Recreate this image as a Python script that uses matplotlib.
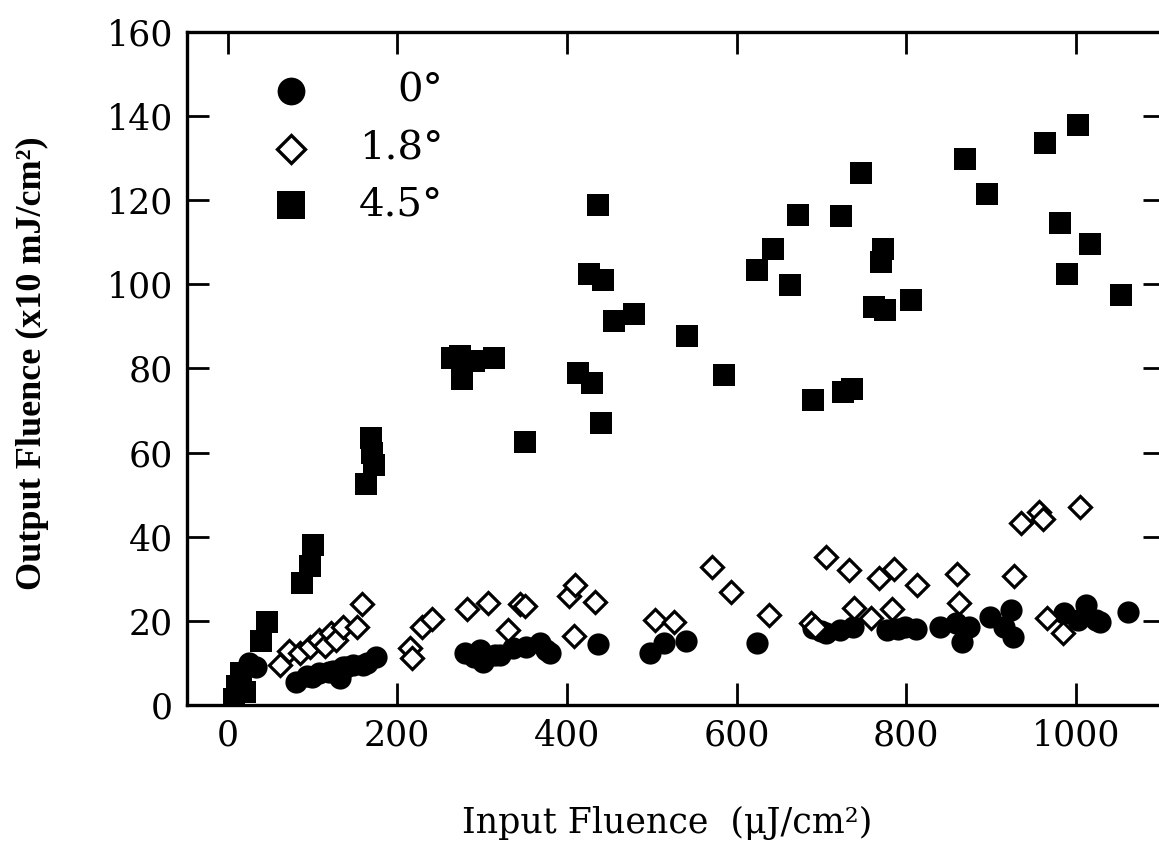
import numpy as np
import matplotlib.pyplot as plt

plt.ioff()

# 0 deg (filled circles)
fluence_0 = [25, 33, 81, 93, 100, 108, 120, 124, 132, 136, 140, 148, 159, 164, 175,
             280, 290, 297, 301, 305, 315, 321, 336, 352, 368, 375, 380, 437,
             498, 515, 540, 624, 690, 700, 706, 722, 737, 777, 790, 798, 811,
             840, 859, 866, 874, 899, 915, 923, 926, 986, 1003, 1012, 1024, 1028, 1062]
output_0 = [10, 9, 5.5, 7, 6.7, 7.5, 7.8, 8, 6.5, 9, 9, 9.5, 9.5, 10, 11.5,
            12.3, 11.5, 13, 10.2, 11.4, 12, 11.9, 13.5, 13.8, 14.7, 13, 12.3, 14.5,
            12.3, 14.7, 15.3, 14.7, 18.2, 17.5, 17, 17.8, 18.5, 17.8, 18, 18.5, 18,
            18.5, 19.4, 15, 18.5, 21, 18.5, 22.5, 16.2, 21.8, 20.2, 23.7, 20.2, 19.7, 22]

# 1.8 deg (open diamonds)
fluence_18 = [62, 72, 85, 97, 108, 115, 122, 128, 136, 152, 158, 215, 217, 229, 241,
              282, 307, 330, 345, 350, 403, 408, 410, 433, 504, 526, 571, 593, 638,
              688, 692, 706, 733, 738, 759, 768, 783, 786, 813, 860, 862,
              927, 935, 957, 961, 966, 985, 1005]
output_18 = [9.6, 12.8, 12.3, 13.8, 15.4, 14, 17, 15.5, 18.5, 18.5, 24, 13.5, 11.2, 18.5, 20.5,
             22.8, 24.2, 17.8, 24, 23.5, 25.8, 16.4, 28.5, 24.4, 20.3, 19.8, 32.8, 26.8, 21.4,
             19.6, 18.5, 35.2, 32, 23, 20.6, 30.2, 22.9, 32.3, 28.5, 31.2, 24.3,
             30.6, 43.3, 45.8, 44.2, 20.6, 17, 47.1]

# 4.5 deg (filled squares)
fluence_45 = [8, 11, 16, 20, 39, 46, 88, 97, 101, 163, 172, 170, 169,
              265, 274, 276, 290, 314, 351, 413, 430, 440, 426, 443, 437, 455, 479,
              542, 585, 624, 643, 663, 673, 690, 723, 725, 736, 747, 762, 775, 770,
              773, 806, 869, 895, 964, 981, 990, 1003, 1017, 1053]
output_45 = [1.5, 4.5, 7.5, 3, 15.2, 19.7, 29, 33, 38, 52.5, 57, 60, 63.4,
             82.5, 83, 77.5, 81.8, 82.5, 62.5, 79, 76.5, 67, 102.4, 101, 118.8, 91.4, 93,
             87.7, 78.4, 103.5, 108.3, 99.8, 116.4, 72.5, 116.3, 74.3, 75.1, 126.4, 94.5, 94,
             105.4, 108.4, 96.2, 129.9, 121.4, 133.7, 114.6, 102.4, 138, 109.7, 97.4]

series_labels = ['0\u00b0', '1.8\u00b0', '4.5\u00b0']
x_ticks = [0, 200, 400, 600, 800, 1000]
y_ticks = [0, 20, 40, 60, 80, 100, 120, 140, 160]

fig = plt.figure(figsize=(11.59, 8.44), dpi=100)
# the right frame runs just past the edge of the scanned page
ax = fig.add_axes([0.1613, 0.1647, 0.8438, 0.7974])

ax.plot(fluence_45, output_45, linestyle='none', marker='s', markersize=16.5,
        color='black', markeredgewidth=0, zorder=3)
ax.plot(fluence_0, output_0, linestyle='none', marker='o', markersize=16,
        color='black', markeredgewidth=0, zorder=4)
ax.plot(fluence_18, output_18, linestyle='none', marker='D', markersize=11.5,
        markerfacecolor='white', markeredgecolor='black', markeredgewidth=2.3, zorder=5)

ax.set_xlim(-48, 1105)
ax.set_ylim(0, 160)
ax.set_xticks(x_ticks)
ax.set_yticks(y_ticks)

for sp in ax.spines.values():
    sp.set_linewidth(2.4)

ax.tick_params(direction='in', length=16, width=2.0, top=True, right=True,
               labelsize=25, pad=10)
for lab in ax.get_xticklabels() + ax.get_yticklabels():
    lab.set_fontfamily('DejaVu Serif')

# legend drawn by hand so that the labels line up on the right
legend_y = [0.912, 0.826, 0.743]
legend_styles = [
    dict(marker='o', markersize=20, color='black', markeredgewidth=0),
    dict(marker='D', markersize=14.5, markerfacecolor='white',
         markeredgecolor='black', markeredgewidth=2.4),
    dict(marker='s', markersize=20, color='black', markeredgewidth=0),
]
for yy, lab, st in zip(legend_y, series_labels, legend_styles):
    ax.plot([0.106], [yy], transform=ax.transAxes, linestyle='none',
            clip_on=False, zorder=6, **st)
    ax.text(0.262, yy, lab, transform=ax.transAxes, ha='right', va='center',
            fontsize=29, family='DejaVu Serif')

fig.text(0.5755, 0.013, 'Input Fluence  (\u03bcJ/cm\u00b2)', ha='center',
         va='baseline', fontsize=25, family='DejaVu Serif')
fig.text(0.028, 0.57, 'Output Fluence (x10 mJ/cm\u00b2)', rotation=90,
         ha='center', va='center', fontsize=26, fontweight='bold',
         family='Liberation Serif')

fig.savefig('out.png', dpi=100, facecolor='white')
